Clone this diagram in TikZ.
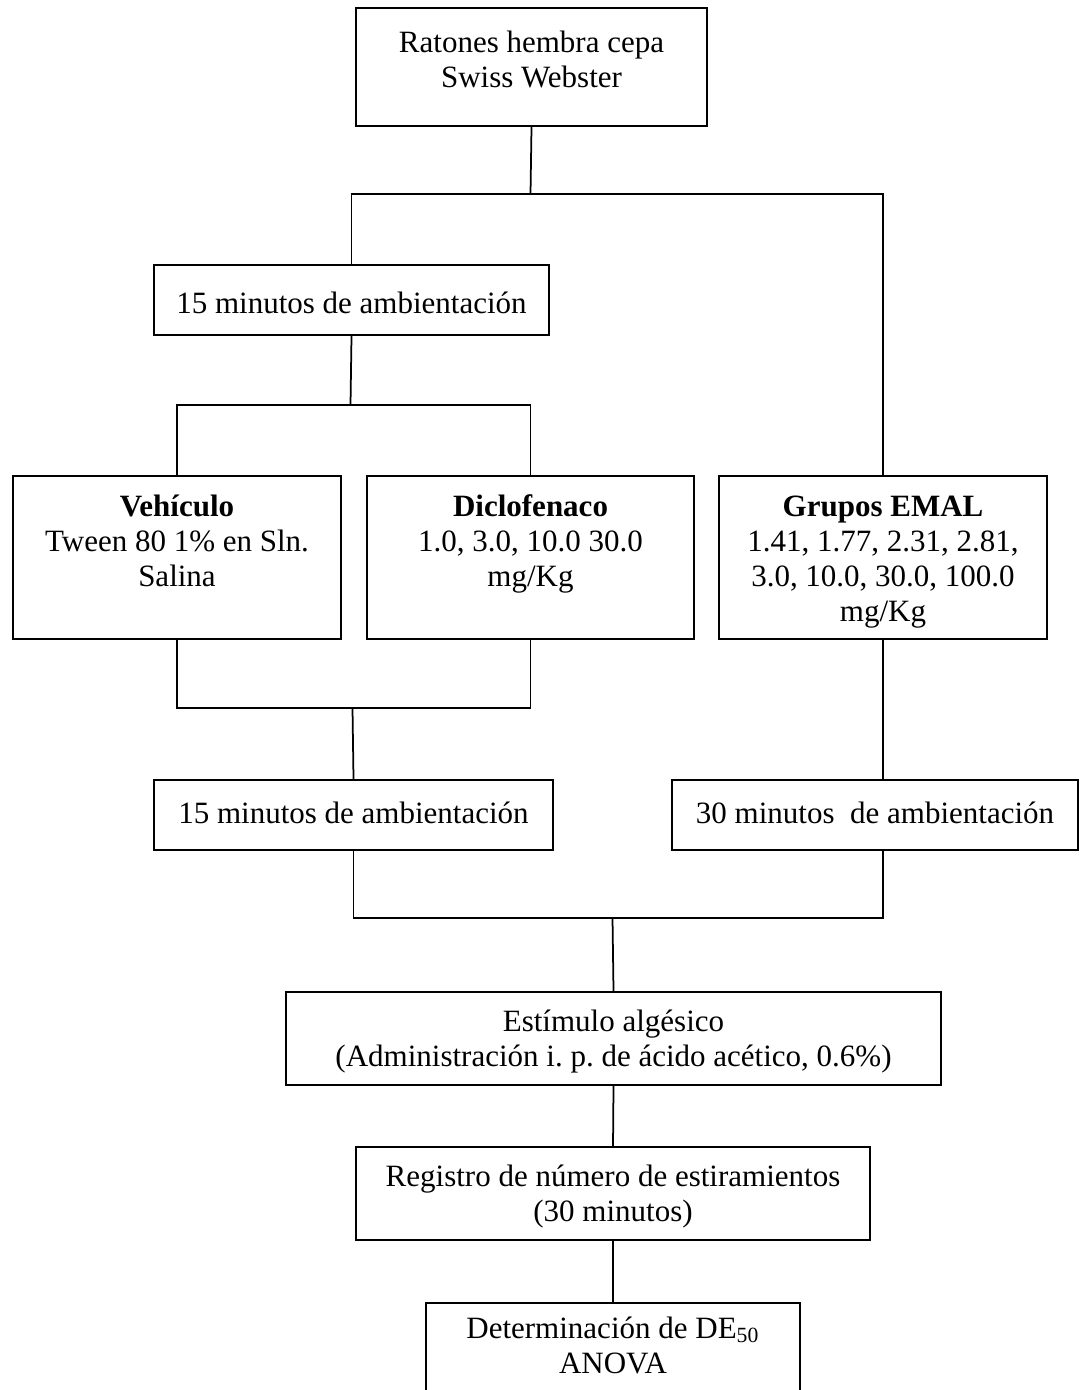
\documentclass[tikz,border=0pt]{standalone}
\usepackage{fontspec}
\setmainfont{Liberation Serif}
\frenchspacing

\tikzset{
	caja/.style={draw, line width=0.8pt, inner sep=0pt, anchor=north west, font=\fontsize{12.4}{14}\selectfont},
	linea/.style={line width=0.7pt}
}
% ancho y alto en px, margen superior en pt, texto
\newcommand{\textocaja}[4]{\parbox[c][\dimexpr#2pt*4/10\relax][t]{\dimexpr#1pt*4/10\relax}{\centering\vspace*{#3pt}\strut #4\par}}

\begin{document}
\begin{tikzpicture}[x=0.4pt, y=-0.4pt]
	\useasboundingbox (0,0) rectangle (1080,1390);

	\node[caja] (rat)   at (355,7)    {\textocaja{351}{118}{8.2}{Ratones hembra cepa\\Swiss Webster}};
	\node[caja] (amb1)  at (153,264)  {\textocaja{395}{70}{9.8}{15 minutos de ambientación}};
	\node[caja] (veh)   at (12,475)   {\textocaja{328}{163}{6.2}{\textbf{Vehículo}\\Tween 80 1\% en Sln.\\Salina}};
	\node[caja] (dic)   at (366,475)  {\textocaja{327}{163}{6.2}{\textbf{Diclofenaco}\\1.0, 3.0, 10.0 30.0\\mg/Kg}};
	\node[caja] (emal)  at (718,475)  {\textocaja{328}{163}{6.2}{\textbf{Grupos EMAL}\\1.41, 1.77, 2.31, 2.81,\\3.0, 10.0, 30.0, 100.0\\mg/Kg}};
	\node[caja] (amb2)  at (153,779)  {\textocaja{399}{70}{7.4}{15 minutos de ambientación}};
	\node[caja] (min30) at (671,779)  {\textocaja{406}{70}{7.4}{30 minutos\ \ de ambientación}};
	\node[caja] (estim) at (285,991)  {\textocaja{655}{93}{5.8}{Estímulo algésico\\(Administración i. p. de ácido acético, 0.6\%)}};
	\node[caja] (reg)   at (355,1146) {\textocaja{514}{93}{5.8}{Registro de número de estiramientos\\(30 minutos)}};
	\node[caja] (det)   at (425,1302) {\textocaja{374}{110}{4.2}{Determinación de DE\textsubscript{50}\\ANOVA}};

	\coordinate (bus1) at (530.5,194);
	\coordinate (bus2) at (350.5,405);
	\coordinate (bus3) at (352.5,708);
	\coordinate (bus4) at (612.5,918);

	\draw[linea] (rat.south) -- (bus1);
	\draw[linea] (amb1.north) |- (bus1) -| (emal.north);
	\draw[linea] (amb1.south) -- (bus2);
	\draw[linea] (veh.north) |- (bus2) -| (dic.north);
	\draw[linea] (veh.south) |- (bus3) -| (dic.south);
	\draw[linea] (bus3) -- (amb2.north);
	\draw[linea] (emal.south) -- (emal.south |- min30.north);
	\draw[linea] (amb2.south) |- (bus4) -| (emal.south |- min30.south);
	\draw[linea] (bus4) -- (estim.north);
	\draw[linea] (estim.south) -- (reg.north);
	\draw[linea] (reg.south) -- (det.north);
\end{tikzpicture}
\end{document}
